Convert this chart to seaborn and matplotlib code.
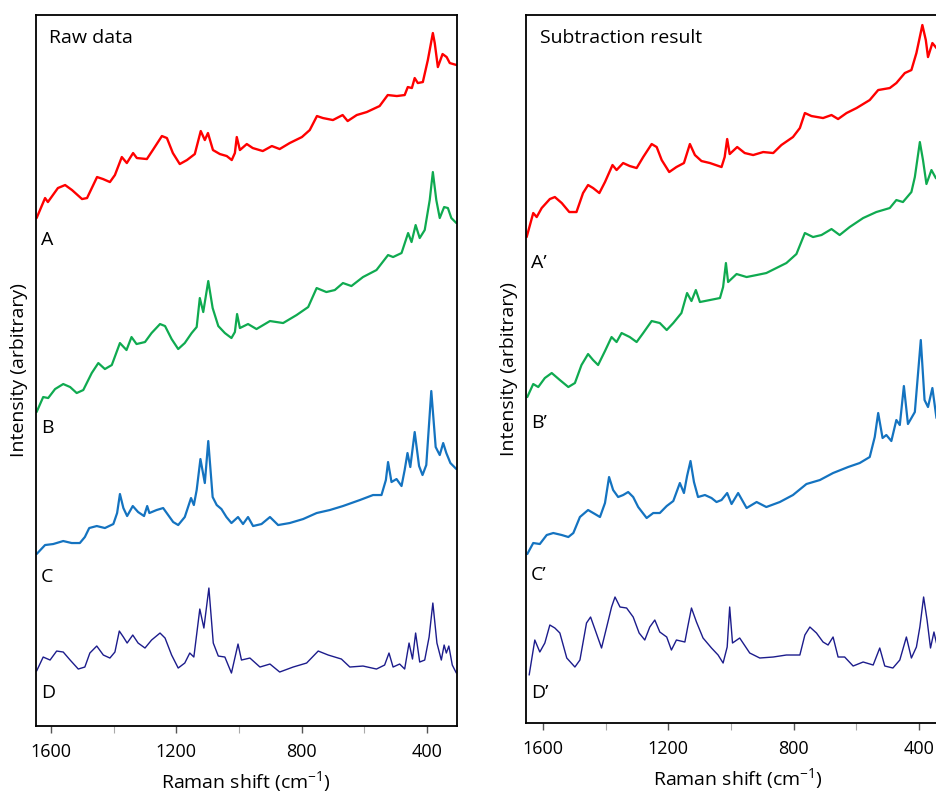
import matplotlib
matplotlib.use("Agg")
import matplotlib.pyplot as plt
from matplotlib.ticker import FixedLocator
import pandas as pd
import seaborn as sns

# ---- Raman spectra (shift in cm-1, stacked intensity in arbitrary units) ----
raw_A_shift = [1646, 1619, 1610, 1578, 1555, 1533, 1501, 1485, 1453, 1434, 1412, 1396, 1374, 1358,
               1338, 1326, 1294, 1275, 1246, 1230, 1211, 1189, 1166, 1141, 1122, 1109, 1099, 1083,
               1061, 1039, 1023, 1013, 1007, 997, 975, 956, 924, 895, 870, 838, 799, 774, 751, 732,
               700, 669, 653, 624, 592, 551, 525, 496, 471, 461, 448, 439, 429, 413, 397, 381, 375,
               365, 350, 337, 327, 305]
raw_A_int = [508, 528, 524, 538, 541, 536, 527, 528, 549, 547, 544, 551, 569, 563,
             573, 568, 567, 576, 590, 588, 573, 562, 566, 572, 595, 586, 593, 576,
             572, 570, 566, 573, 589, 576, 582, 578, 575, 580, 577, 583, 589, 596, 610, 608,
             606, 611, 605, 611, 614, 620, 631, 630, 631, 639, 638, 648, 643, 644, 666, 693, 683,
             659, 672, 669, 663, 661]

raw_B_shift = [1646, 1625, 1609, 1587, 1561, 1539, 1518, 1497, 1470, 1449, 1428, 1406, 1380, 1359,
               1343, 1327, 1300, 1279, 1252, 1236, 1215, 1194, 1173, 1151, 1135, 1125, 1114, 1098,
               1084, 1066, 1045, 1024, 1013, 1006, 997, 971, 944, 901, 859, 816, 779, 752, 721,
               694, 668, 641, 604, 561, 524, 508, 481, 460, 449, 436, 423, 407, 391, 381, 370,
               359, 345, 333, 322, 306]
raw_B_int = [314, 329, 328, 337, 342, 339, 333, 336, 353, 363, 357, 361, 383, 376,
             389, 382, 384, 393, 402, 400, 387, 377, 383, 393, 399, 428, 414, 445,
             418, 400, 393, 388, 394, 412, 398, 402, 397, 405, 403, 411, 419, 438, 434,
             436, 443, 440, 449, 456, 471, 469, 473, 493, 484, 501, 488, 496, 526, 554, 526,
             508, 519, 518, 508, 503]

raw_C_shift = [1646, 1619, 1593, 1561, 1534, 1508, 1492, 1478, 1454, 1428, 1401, 1389, 1380, 1369,
               1357, 1339, 1322, 1303, 1293, 1286, 1263, 1242, 1226, 1210, 1194, 1173, 1153, 1144,
               1135, 1123, 1109, 1098, 1084, 1071, 1056, 1040, 1024, 1003, 987, 971, 955, 928, 901,
               875, 838, 795, 752, 710, 668, 614, 572, 545, 531, 524, 513, 497, 481, 471, 462, 453,
               439, 425, 414, 402, 386, 372, 359, 348, 338, 325, 306]
raw_C_int = [172, 181, 182, 185, 183, 183, 189, 198, 200, 198, 202, 213, 232, 218,
             210, 220, 214, 210, 220, 213, 216, 218, 211, 204, 201, 209, 228, 221,
             236, 267, 243, 285, 229, 221, 217, 209, 203, 209, 202, 209, 200, 202, 209,
             201, 203, 207, 213, 216, 220, 226, 231, 231, 246, 264, 244, 247, 240, 256, 273, 259,
             294, 260, 251, 261, 335, 279, 271, 283, 273, 263, 257]

raw_D_shift = [1646, 1625, 1603, 1582, 1561, 1539, 1513, 1492, 1476, 1454, 1433, 1412, 1396, 1382,
               1369, 1357, 1339, 1322, 1300, 1279, 1252, 1236, 1215, 1194, 1173, 1157, 1144, 1125,
               1112, 1096, 1082, 1066, 1045, 1024, 1003, 992, 965, 933, 901, 870, 827, 784, 747,
               715, 673, 646, 604, 561, 535, 521, 508, 487, 471, 457, 446, 436, 423, 407, 393, 381,
               368, 354, 345, 338, 330, 319, 306]
raw_D_int = [55, 69, 66, 75, 74, 66, 57, 59, 73, 80, 71, 68, 74, 95,
             89, 83, 91, 83, 78, 86, 93, 88, 71, 58, 63, 73, 69, 117,
             98, 138, 83, 70, 69, 53, 82, 66, 68, 59, 62, 54, 59, 63, 75,
             71, 67, 59, 60, 57, 61, 73, 59, 62, 57, 83, 67, 93, 64, 66, 89, 123,
             83, 66, 81, 73, 80, 61, 53]

sub_A_shift = [1652, 1631, 1620, 1604, 1578, 1562, 1540, 1516, 1493, 1472, 1456, 1440, 1420, 1402,
               1378, 1365, 1344, 1323, 1301, 1280, 1253, 1237, 1221, 1197, 1174, 1150, 1131, 1115,
               1094, 1067, 1030, 1020, 1012, 1004, 980, 956, 929, 897, 865, 839, 802, 780, 764,
               743, 706, 679, 658, 631, 599, 557, 530, 493, 472, 445, 424, 408, 389, 378, 371, 357,
               344, 325, 305]
sub_A_int = [486, 510, 506, 515, 524, 526, 520, 511, 511, 530, 538, 535, 530, 541,
             558, 553, 560, 557, 555, 566, 579, 576, 563, 551, 556, 560, 579, 568,
             562, 560, 556, 566, 584, 569, 576, 570, 568, 571, 570, 578, 586, 595, 610,
             607, 605, 608, 604, 610, 615, 623, 633, 635, 640, 650, 653, 670, 698, 683, 666, 680,
             675, 670, 665]

sub_B_shift = [1650, 1631, 1615, 1594, 1572, 1546, 1519, 1498, 1477, 1456, 1440, 1424, 1402, 1381,
               1365, 1349, 1323, 1301, 1280, 1253, 1227, 1205, 1184, 1158, 1140, 1126, 1112, 1099,
               1067, 1035, 1025, 1016, 1009, 982, 950, 918, 887, 855, 823, 791, 764, 738, 711,
               679, 653, 621, 578, 536, 493, 472, 451, 424, 413, 397, 387, 376, 360, 346, 325, 305]
sub_B_int = [326, 339, 336, 345, 350, 343, 336, 340, 358, 369, 363, 358, 372, 386,
             381, 390, 386, 381, 390, 402, 400, 393, 400, 410, 430, 422, 433, 421,
             423, 425, 436, 460, 441, 449, 446, 448, 450, 455, 460, 469, 490, 486, 488,
             494, 488, 496, 505, 511, 515, 523, 521, 531, 546, 581, 563, 539, 553, 545, 540, 535]

sub_C_shift = [1650, 1631, 1610, 1588, 1567, 1540, 1519, 1503, 1482, 1456, 1434, 1418, 1402, 1389,
               1376, 1360, 1344, 1328, 1312, 1296, 1269, 1248, 1227, 1205, 1184, 1163, 1150, 1140,
               1129, 1118, 1105, 1083, 1062, 1046, 1030, 1012, 998, 977, 950, 918, 887, 844, 802,
               759, 716, 674, 626, 589, 557, 541, 530, 516, 504, 488, 472, 461, 448, 435, 413, 394,
               382, 371, 357, 344, 325]
sub_C_int = [169, 180, 179, 188, 190, 188, 186, 190, 206, 213, 209, 206, 220, 246,
             233, 226, 228, 231, 226, 216, 205, 210, 210, 217, 222, 240, 230, 247,
             262, 241, 226, 228, 225, 221, 223, 230, 219, 230, 215, 221, 216, 221, 228,
             239, 243, 250, 256, 260, 266, 286, 310, 285, 288, 282, 303, 298, 337, 299, 311, 383,
             323, 316, 335, 305, 300]

sub_D_shift = [1644, 1626, 1610, 1594, 1578, 1562, 1546, 1524, 1498, 1482, 1461, 1448, 1431, 1413,
               1395, 1381, 1370, 1354, 1333, 1312, 1293, 1275, 1259, 1243, 1227, 1205, 1190, 1174,
               1147, 1138, 1126, 1110, 1089, 1062, 1041, 1025, 1012, 1004, 995, 972, 940, 908, 865,
               823, 780, 764, 748, 727, 706, 690, 674, 658, 637, 610, 578, 546, 525, 509, 483, 461,
               440, 424, 408, 397, 385, 374, 363, 352, 344, 325]
sub_D_int = [48, 83, 71, 80, 98, 95, 90, 65, 56, 63, 100, 106, 91, 75,
             98, 116, 126, 116, 115, 106, 90, 83, 96, 103, 91, 86, 73, 83,
             81, 96, 115, 101, 85, 75, 68, 60, 76, 116, 80, 85, 70, 65, 66,
             68, 68, 88, 96, 90, 81, 78, 86, 66, 66, 57, 61, 58, 75, 57, 55, 63,
             86, 65, 76, 96, 126, 103, 75, 91, 80, 70]

raw_labels = ["A", "B", "C", "D"]
sub_labels = ["A\u2019", "B\u2019", "C\u2019", "D\u2019"]
label_heights_raw = [0.683, 0.419, 0.210, 0.046]
label_heights_sub = [0.650, 0.424, 0.209, 0.042]
colors = ["#FF0000", "#0FAA50", "#1473C0", "#1C1C8C"]
widths = [1.7, 1.6, 1.6, 1.0]
major_ticks = [1600, 1200, 800, 400]
minor_ticks = [1400, 1000, 600]

sns.set_theme(style="white")
plt.rcParams["font.family"] = ["Open Sans", "DejaVu Sans"]
plt.rcParams["mathtext.fontset"] = "custom"
plt.rcParams["mathtext.rm"] = "Open Sans"
plt.rcParams["mathtext.default"] = "regular"
plt.rcParams["text.color"] = "black"
plt.rcParams["axes.labelcolor"] = "black"
plt.rcParams["xtick.labelcolor"] = "black"

fig = plt.figure(figsize=(9.37, 7.96), dpi=100)
ax_raw = fig.add_axes([0.0384, 0.0879, 0.4493, 0.8932])
ax_sub = fig.add_axes([0.5614, 0.0917, 0.4514, 0.8894])


def draw_panel(ax, spectra, labels, label_y, title, xlim, ylim):
    for (shift, inten), color, lw in zip(spectra, colors, widths):
        df = pd.DataFrame({"shift": shift, "intensity": inten})
        sns.lineplot(data=df, x="shift", y="intensity", ax=ax, color=color,
                     linewidth=lw, estimator=None, sort=False)
    ax.set_xlim(*xlim)
    ax.set_ylim(*ylim)
    ax.set_yticks([])
    ax.xaxis.set_major_locator(FixedLocator(major_ticks))
    ax.xaxis.set_minor_locator(FixedLocator(minor_ticks))
    ax.set_xticklabels([str(t) for t in major_ticks])
    ax.tick_params(axis="x", which="major", direction="out", length=5, width=1.0,
                   color="#555555", labelsize=13, pad=7, bottom=True, labelcolor="black")
    ax.tick_params(axis="x", which="minor", direction="out", length=5, width=0.8,
                   color="#AAAAAA", bottom=True)
    for side in ["left", "right", "top", "bottom"]:
        ax.spines[side].set_color("black")
        ax.spines[side].set_linewidth(1.3)
    ax.set_xlabel("Raman shift (cm$^{-1}$)", fontsize=14, labelpad=6, color="black")
    ax.set_ylabel("Intensity (arbitrary)", fontsize=14, labelpad=6, color="black")
    ax.text(0.032, 0.968, title, transform=ax.transAxes, fontsize=14,
            ha="left", va="center", color="black")
    for lab, yy in zip(labels, label_y):
        ax.text(0.012, yy, lab, transform=ax.transAxes, fontsize=14,
                ha="left", va="center", color="black")


draw_panel(ax_raw,
           [(raw_A_shift, raw_A_int), (raw_B_shift, raw_B_int),
            (raw_C_shift, raw_C_int), (raw_D_shift, raw_D_int)],
           raw_labels, label_heights_raw, "Raw data", (1648, 304), (0, 711))
draw_panel(ax_sub,
           [(sub_A_shift, sub_A_int), (sub_B_shift, sub_B_int),
            (sub_C_shift, sub_C_int), (sub_D_shift, sub_D_int)],
           sub_labels, label_heights_sub, "Subtraction result", (1654, 304), (0, 708))

fig.savefig("out.png", dpi=100)
